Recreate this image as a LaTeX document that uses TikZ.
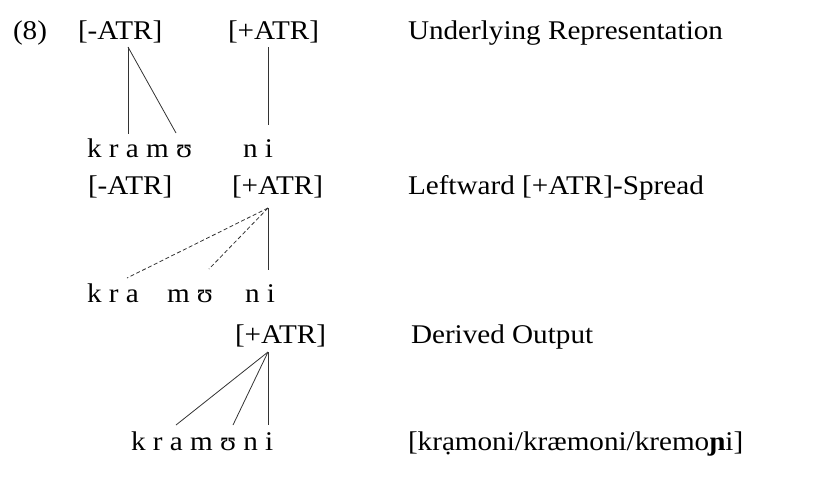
\documentclass[tikz,border=0pt]{standalone}
\usepackage{fontspec}
\setmainfont{Liberation Serif}[FakeStretch=1.08]
\usepackage{tikz}
\usetikzlibrary{positioning}
\tikzset{
    ling/.style={anchor=base west, inner sep=0pt, outer sep=0pt, font=\fontsize{27}{32}\selectfont},
    feat/.style={ling},
    segs/.style={ling},
    stage/.style={ling},
    assoc/.style={line width=0.8pt, black!80},
    spread/.style={assoc, dash pattern=on 4pt off 2.5pt},
}

\begin{document}
\begin{tikzpicture}[x=1pt, y=-1pt]
    \useasboundingbox (0,0) rectangle (827,477);
    \node[ling]  (exnum) at (13,39)  {(8)};
    \node[feat]  (urneg) at (78,39)  {[-ATR]};
    \node[feat]  (urpos) at (228,39) {[+ATR]};
    \node[stage] (urlbl) at (408,39) {Underlying Representation};
    \node[segs]  (urkra) at (87,157) {k r a m ʊ};
    \node[segs]  (urni)  at (243,157) {n i};
    \coordinate (urnegt) at (128,47);
    \coordinate (urpost) at (268,47);
    \coordinate (urk)    at (128,134);
    \coordinate (uru)    at (176,133);
    \coordinate (urn)    at (268,125);
    \draw[assoc] (urnegt) -- (urk);
    \draw[assoc] (urnegt) -- (uru);
    \draw[assoc] (urpost) -- (urn);

    \node[feat]  (lsneg) at (88,194)  {[-ATR]};
    \node[feat]  (lspos) at (232,194) {[+ATR]};
    \node[stage] (lslbl) at (408,194) {Leftward [+ATR]-Spread};
    \node[segs]  (lskra) at (87,302)  {k r a};
    \node[segs]  (lsmu)  at (167,302) {m ʊ};
    \node[segs]  (lsni)  at (245,302) {n i};
    \coordinate (lspost) at (268,208);
    \coordinate (lsa)    at (127,278);
    \coordinate (lsu)    at (209,269);
    \coordinate (lsn)    at (268,270);
    \draw[spread] (lspost) -- (lsa);
    \draw[spread] (lspost) -- (lsu);
    \draw[assoc]  (lspost) -- (lsn);

    \node[feat]  (dopos) at (235,343) {[+ATR]};
    \node[stage] (dolbl) at (411,343) {Derived Output};
    \node[segs]  (dokra) at (131,450) {k r a m ʊ n i};
    \node[stage] (dosurf) at (408,450) {[krạmoni/kræmoni/kremo\textbf{ɲ}i]};
    \coordinate (dopost) at (268,352);
    \coordinate (doa)    at (176,425);
    \coordinate (dou)    at (233,425);
    \coordinate (don)    at (268,425);
    \draw[assoc] (dopost) -- (doa);
    \draw[assoc] (dopost) -- (dou);
    \draw[assoc] (dopost) -- (don);
\end{tikzpicture}
\end{document}
